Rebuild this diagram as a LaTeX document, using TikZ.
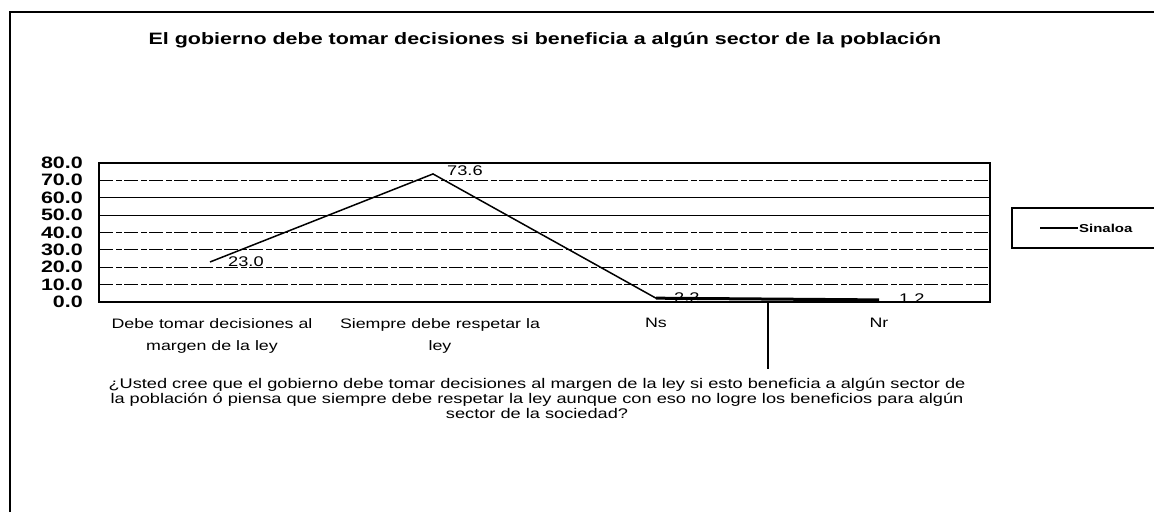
\documentclass[tikz,border=0pt]{standalone}
\usepackage{fontspec}
\setmainfont{Liberation Sans}[FakeStretch=1.3]
\usetikzlibrary{positioning}

\begin{document}
\begin{tikzpicture}[x=1pt,y=-1pt,
    ticklbl/.style={font=\fontsize{16.5}{16.5}\selectfont\bfseries,anchor=east,inner sep=0pt},
    catlbl/.style={font=\fontsize{13.7}{22}\selectfont,align=center,inner sep=0pt},
    vallbl/.style={font=\fontsize{14}{14}\selectfont,inner sep=0pt},
    gridsolid/.style={line width=1pt},
    griddash/.style={line width=0.7pt,dash pattern=on 14pt off 3pt on 6pt off 2pt}]
\useasboundingbox (0,0) rectangle (1154,512);
% outer frame
\draw[line width=2pt] (10,512) -- (10,12) -- (1154,12);
\node[font=\fontsize{16.5}{16.5}\selectfont\bfseries] (title) at (545,40)
  {El gobierno debe tomar decisiones si beneficia a algún sector de la población};

% plot area
\foreach \v/\s in {70/griddash,60/gridsolid,50/gridsolid,40/griddash,30/griddash,20/griddash,10/griddash}
  \draw[\s] (99,{302-1.74*\v}) -- (990,{302-1.74*\v});
\draw[line width=1.5pt] (99,163) rectangle (990,302);
\foreach \v in {0,10,...,80}
  \node[ticklbl] at (83,{302-1.74*\v}) {\v.0};

% data
\coordinate (p1) at (210,{302-1.74*23.0});
\coordinate (p2) at (433,{302-1.74*73.6});
\coordinate (p3) at (656,{302-1.74*2.2});
\coordinate (p4) at (879,{302-1.74*1.2});
\draw[line width=1.5pt,line join=miter] (p1) -- (p2) -- (p3);
\draw[line width=3pt] (p3) -- (p4);
\node[vallbl,right=18pt of p1] (v1) {23.0};
\node[vallbl,right=14pt of p2,yshift=3pt] (v2) {73.6};
\node[vallbl,right=18pt of p3,yshift=1pt] (v3) {2.2};
\node[vallbl,right=20pt of p4,yshift=1pt] (v4) {1.2};
\coordinate (s1) at (768,302);
\coordinate (s2) at (768,369);
\draw[line width=1.2pt] (s1) -- (s2);

% categories
\node[catlbl,anchor=north] (c1) at (212,318) {Debe tomar decisiones al\\margen de la ley};
\node[catlbl,anchor=north] (c2) at (440,318) {Siempre debe respetar la\\ley};
\node[catlbl,anchor=north] (c3) at (656,318) {Ns};
\node[catlbl,anchor=north] (c4) at (879,318) {Nr};
\node[font=\fontsize{14}{15}\selectfont,align=center,inner sep=0pt] (q) at (537,398)
  {¿Usted cree que el gobierno debe tomar decisiones al margen de la ley si esto beneficia a algún sector de\\
   la población ó piensa que siempre debe respetar la ley aunque con eso no logre los beneficios para algún\\
   sector de la sociedad?};

% legend
\draw[line width=1.2pt] (1154,208) -- (1012,208) -- (1012,248) -- (1154,248);
\coordinate (k1) at (1040,228);
\coordinate (k2) at (1078,228);
\draw[line width=2pt] (k1) -- (k2);
\node[font=\fontsize{11.5}{11.5}\selectfont\bfseries,anchor=west,inner sep=1pt] (leg) at (k2) {Sinaloa};
\end{tikzpicture}
\end{document}
